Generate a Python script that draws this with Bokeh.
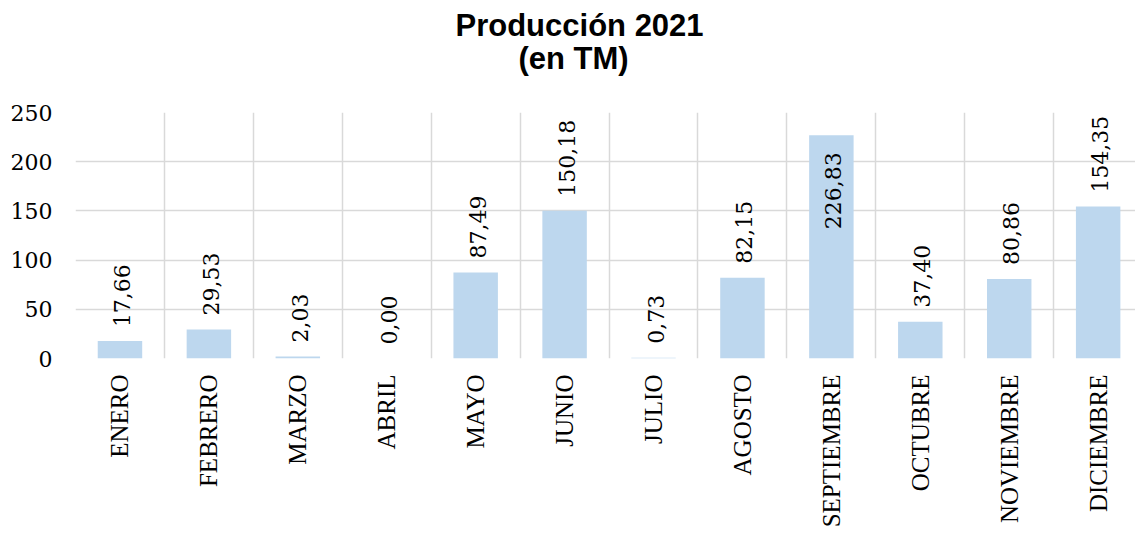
import math
from bokeh.plotting import figure
from bokeh.models import ColumnDataSource, Range1d, FixedTicker, Title
from bokeh.core.properties import value
from bokeh.embed import file_html
from bokeh.resources import INLINE

months = ["ENERO", "FEBRERO", "MARZO", "ABRIL", "MAYO", "JUNIO", "JULIO",
          "AGOSTO", "SEPTIEMBRE", "OCTUBRE", "NOVIEMBRE", "DICIEMBRE"]
produccion = [17.66, 29.53, 2.03, 0.00, 87.49, 150.18, 0.73,
              82.15, 226.83, 37.40, 80.86, 154.35]
y_ticks = [0, 50, 100, 150, 200, 250]

xs = list(range(len(months)))
labels = [f"{v:.2f}".replace(".", ",") for v in produccion]
inside = [v > 200 for v in produccion]

src = ColumnDataSource(dict(x=xs, y=produccion, lab=labels))
src_out = ColumnDataSource(dict(
    x=[x for x, i in zip(xs, inside) if not i],
    y=[v for v, i in zip(produccion, inside) if not i],
    lab=[l for l, i in zip(labels, inside) if not i]))
src_in = ColumnDataSource(dict(
    x=[x for x, i in zip(xs, inside) if i],
    y=[v for v, i in zip(produccion, inside) if i],
    lab=[l for l, i in zip(labels, inside) if i]))

p = figure(width=1135, height=534, output_backend="svg", toolbar_location=None,
           x_range=Range1d(-0.5, 11.42), y_range=Range1d(0, 250),
           min_border_left=75, min_border_right=0, min_border_top=112,
           min_border_bottom=176)
p.outline_line_color = None
p.background_fill_color = "white"

tfont = "Liberation Sans"
p.title.text = "Producción 2021"
p.title.text_font = tfont
p.title.text_font_size = "31px"
p.title.text_font_style = "bold"
p.title.text_color = "#000000"
p.title.align = "left"
p.title.offset = 380
p.title.standoff = -8

spacer = Title(text=" ", text_font_size="1px", standoff=34)
p.add_layout(spacer, "above")
t2 = Title(text="(en TM)", text_font=tfont, text_font_size="31px",
           text_font_style="bold", text_color="#000000", align="left",
           offset=443, standoff=0)
p.add_layout(t2, "above")

p.vbar(x="x", top="y", width=0.5, source=src, fill_color="#BDD7EE", line_color=None)

p.text(x="x", y="y", text="lab", source=src_out, angle=math.pi / 2,
       text_align="left", text_baseline="middle", y_offset=-14, x_offset=2,
       text_font=value("DejaVu Serif"), text_font_size="22px", text_color="#000000")
p.text(x="x", y="y", text="lab", source=src_in, angle=math.pi / 2,
       text_align="right", text_baseline="middle", y_offset=17, x_offset=2,
       text_font=value("DejaVu Serif"), text_font_size="22px", text_color="#000000")

# axes
p.yaxis.ticker = FixedTicker(ticks=y_ticks)
p.yaxis.axis_line_color = None
p.yaxis.major_tick_line_color = None
p.yaxis.minor_tick_line_color = None
p.yaxis.major_tick_out = 0
p.yaxis.major_tick_in = 0
p.yaxis.major_label_standoff = 23
p.yaxis.major_label_text_font = "DejaVu Serif"
p.yaxis.major_label_text_font_size = "22px"
p.yaxis.major_label_text_color = "#000000"

p.xaxis.ticker = FixedTicker(ticks=xs)
p.xaxis.major_label_overrides = {x: m for x, m in zip(xs, months)}
p.xaxis.major_label_orientation = math.pi / 2
p.xaxis.axis_line_color = None
p.xaxis.major_tick_line_color = None
p.xaxis.minor_tick_line_color = None
p.xaxis.major_tick_out = 0
p.xaxis.major_tick_in = 0
p.xaxis.major_label_standoff = 16
p.xaxis.major_label_text_font = "Liberation Serif"
p.xaxis.major_label_text_font_size = "25px"
p.xaxis.major_label_text_color = "#000000"

p.ygrid.grid_line_color = "#D9D9D9"
p.ygrid.grid_line_width = 1.5
p.xgrid.ticker = FixedTicker(ticks=[x - 0.5 for x in xs] + [len(xs) - 0.5])
p.xgrid.grid_line_color = "#D9D9D9"
p.xgrid.grid_line_width = 1.5

open("out.html", "w").write(file_html(p, INLINE))
